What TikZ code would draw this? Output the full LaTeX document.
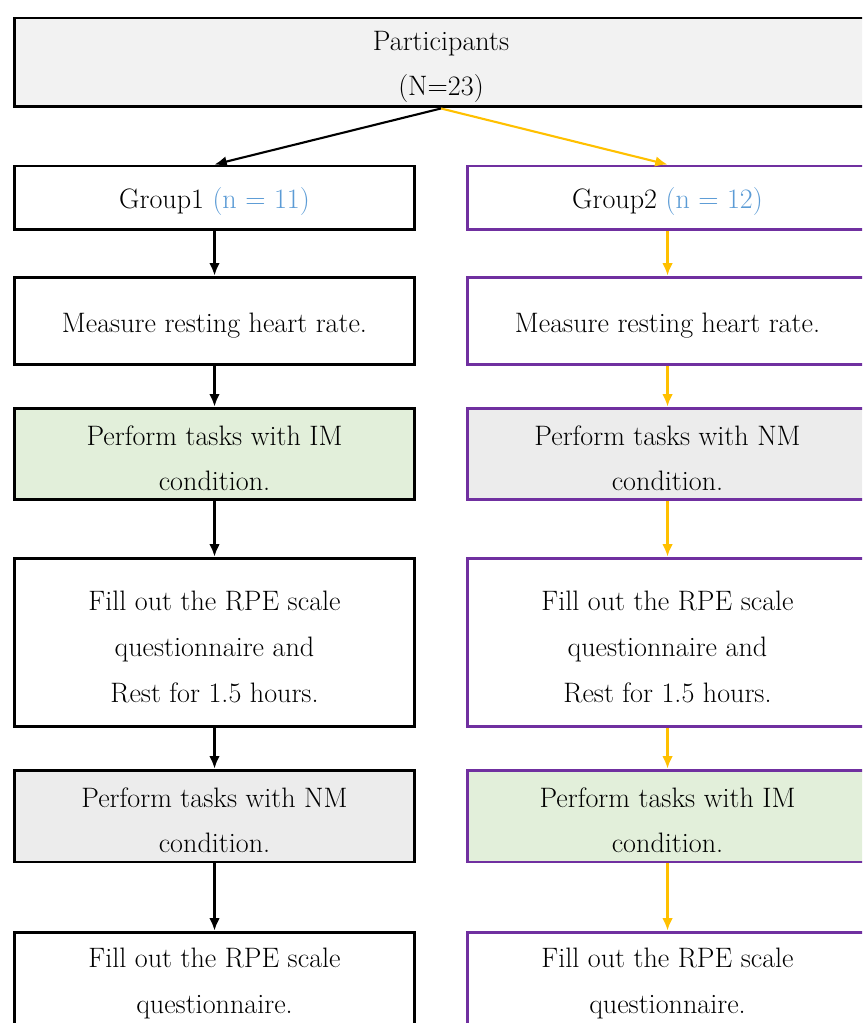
\documentclass[tikz,border=0pt]{standalone}
\usepackage{amsmath}
\usepackage{tikz}
\usetikzlibrary{arrows.meta}
\definecolor{grpblue}{RGB}{91,155,213}
\definecolor{boxpurple}{RGB}{112,48,160}
\definecolor{arrgold}{RGB}{255,192,0}
\definecolor{imgreen}{RGB}{226,239,218}
\definecolor{nmgray}{RGB}{236,236,236}
\definecolor{topgray}{RGB}{242,242,242}
\newcommand{\topstrut}{\rule{0pt}{16pt}}
\tikzset{> = {Latex[length=7pt,width=6pt]}, every picture/.style={line width=1.2pt}}

\begin{document}
\begin{tikzpicture}[x=0.02cm,y=-0.02cm]
\useasboundingbox (0,0) rectangle (862,1023);
\clip (0,0) rectangle (862,1023);

\begin{scope}[every node/.style={rectangle,draw,line width=1.7pt,align=center,inner sep=0pt,
    font=\fontsize{16}{26}\selectfont,minimum width=8.02cm}]
\node[fill=topgray,minimum width=17.08cm,minimum height=1.78cm] (P) at (441,62.5) {\topstrut Participants\\(N=23)};
% group 1
\node[minimum height=1.28cm] (G1) at (214.5,198) {\topstrut Group1 \textcolor{grpblue}{(n = 11)}};
\node[minimum height=1.76cm] (R1) at (214.5,321) {\topstrut Measure resting heart rate.};
\node[fill=imgreen,minimum height=1.84cm] (T1) at (214.5,454) {\topstrut Perform tasks with IM\\condition.};
\node[minimum height=3.38cm] (S1) at (214.5,642.5) {\topstrut Fill out the RPE scale\\questionnaire and\\Rest for 1.5 hours.};
\node[fill=nmgray,minimum height=1.84cm] (U1) at (214.5,816) {\topstrut Perform tasks with NM\\condition.};
\node[minimum height=1.9cm] (Q1) at (214.5,979.5) {\topstrut Fill out the RPE scale\\questionnaire.};
% group 2
\node[draw=boxpurple,minimum height=1.28cm] (G2) at (667.5,198) {\topstrut Group2 \textcolor{grpblue}{(n = 12)}};
\node[draw=boxpurple,minimum height=1.76cm] (R2) at (667.5,321) {\topstrut Measure resting heart rate.};
\node[draw=boxpurple,fill=nmgray,minimum height=1.84cm] (T2) at (667.5,454) {\topstrut Perform tasks with NM\\condition.};
\node[draw=boxpurple,minimum height=3.38cm] (S2) at (667.5,642.5) {\topstrut Fill out the RPE scale\\questionnaire and\\Rest for 1.5 hours.};
\node[draw=boxpurple,fill=imgreen,minimum height=1.84cm] (U2) at (667.5,816) {\topstrut Perform tasks with IM\\condition.};
\node[draw=boxpurple,minimum height=1.9cm] (Q2) at (667.5,979.5) {\topstrut Fill out the RPE scale\\questionnaire.};
\end{scope}

\begin{scope}[every edge/.style={draw}]
    \path [->] (P.south) edge (G1.north);
    \path [->] (G1) edge (R1);
    \path [->] (R1) edge (T1);
    \path [->] (T1) edge (S1);
    \path [->] (S1) edge (U1);
    \path [->] (U1) edge (Q1);
    \path [->,arrgold] (P.south) edge (G2.north);
    \path [->,arrgold] (G2) edge (R2);
    \path [->,arrgold] (R2) edge (T2);
    \path [->,arrgold] (T2) edge (S2);
    \path [->,arrgold] (S2) edge (U2);
    \path [->,arrgold] (U2) edge (Q2);
\end{scope}
\end{tikzpicture}
\end{document}
